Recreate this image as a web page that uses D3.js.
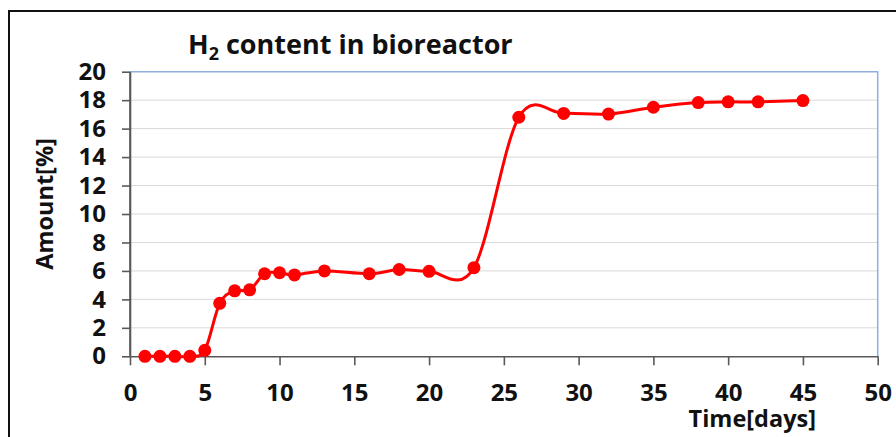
<!DOCTYPE html>
<html><head><meta charset="utf-8">
<script src="https://cdn.jsdelivr.net/npm/d3@7"></script>
<style>body{margin:0;background:#fff}svg{display:block}</style>
</head><body>
<svg id="c" width="896" height="437"></svg>
<script>
const days = [1,2,3,4,5,6,7,8,9,10,11,13,16,18,20,23,26,29,32,35,38,40,42,45];
const h2 = [0,0,0,0,0.42,3.72,4.6,4.67,5.8,5.87,5.72,6.0,5.8,6.1,5.97,6.23,16.8,17.07,17.02,17.5,17.83,17.88,17.88,17.97];
const xTicks = [0,5,10,15,20,25,30,35,40,45,50];
const yTicks = [0,2,4,6,8,10,12,14,16,18,20];
const title = "H", titleSub = "2", titleRest = " content in bioreactor";
const xTitle = "Time[days]", yTitle = "Amount[%]";

const svg = d3.select("#c");
const F = "'Open Sans', Lato, sans-serif";
const L = 130, R = 877.7, T = 71.7, B = 356.3;
const x = d3.scaleLinear().domain([0,50]).range([L,R]);
const y = d3.scaleLinear().domain([0,20]).range([B,T]);

// outer frame
svg.append("line").attr("x1",9).attr("x2",896).attr("y1",11).attr("y2",11).attr("stroke","#111").attr("stroke-width",2);
svg.append("line").attr("x1",9).attr("x2",9).attr("y1",10).attr("y2",437).attr("stroke","#111").attr("stroke-width",2);

// gridlines
svg.append("g").selectAll("line").data(yTicks.filter(d=>d>0&&d<20)).join("line")
  .attr("x1",L).attr("x2",R).attr("y1",d=>y(d)).attr("y2",d=>y(d))
  .attr("stroke","#d9d9d9").attr("stroke-width",1);
// blue top/right border
svg.append("path").attr("d",`M${L},${y(20)}H${R}V${B}`).attr("fill","none").attr("stroke","#8fb0dc").attr("stroke-width",1.5);

// axes
const yAxis = svg.append("g").attr("transform",`translate(${L},0)`)
  .call(d3.axisLeft(y).tickValues(yTicks).tickSize(8).tickPadding(16).tickSizeOuter(0));
const xAxis = svg.append("g").attr("transform",`translate(0,${B})`)
  .call(d3.axisBottom(x).tickValues(xTicks).tickSize(9).tickPadding(19).tickSizeOuter(0));
[yAxis,xAxis].forEach(a=>{
  a.select(".domain").attr("stroke","#595959").attr("stroke-width",1.6);
  a.selectAll(".tick line").attr("stroke","#595959").attr("stroke-width",1.6);
  a.selectAll("text").attr("font-family",F).attr("font-weight","bold").attr("font-size",24).attr("fill","#111");
});
svg.append("line").attr("x1",L).attr("x2",L).attr("y1",y(20)).attr("y2",B).attr("stroke","#595959").attr("stroke-width",1.6);

// line
const line = d3.line().x((d,i)=>x(days[i])).y(d=>y(d)).curve(d3.curveCardinal.tension(0));
svg.append("path").datum(h2).attr("d",line).attr("fill","none").attr("stroke","#ff0000").attr("stroke-width",3);
svg.append("g").selectAll("circle").data(h2).join("circle")
  .attr("cx",(d,i)=>x(days[i])).attr("cy",d=>y(d)).attr("r",6.5).attr("fill","#ff0000");

// titles
const t = svg.append("text").attr("x",188).attr("y",54).attr("font-family",F).attr("font-weight","bold").attr("font-size",27).attr("fill","#111");
t.append("tspan").text(title);
t.append("tspan").attr("font-size",18).attr("dy",6).text(titleSub);
t.append("tspan").attr("dy",-6).text(titleRest);

svg.append("text").attr("x",816).attr("y",427).attr("text-anchor","end").attr("font-family",F).attr("font-weight","bold").attr("font-size",23.5).attr("fill","#111").text(xTitle);
svg.append("text").attr("transform","translate(53,204) rotate(-90)").attr("text-anchor","middle").attr("font-family",F).attr("font-weight","bold").attr("font-size",23.5).attr("fill","#111").text(yTitle);
</script>
</body></html>
